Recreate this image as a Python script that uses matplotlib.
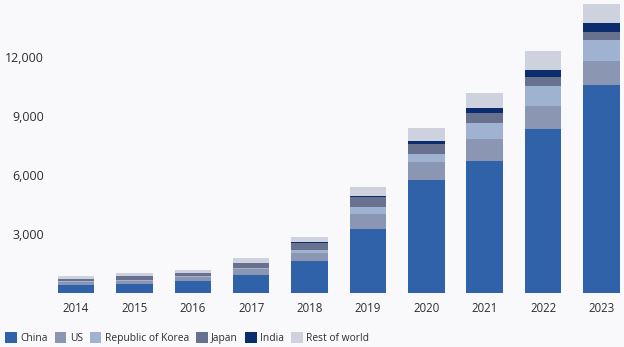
import matplotlib
matplotlib.use("Agg")
import matplotlib.pyplot as plt
import numpy as np

# Values
years = ["2014", "2015", "2016", "2017", "2018", "2019", "2020", "2021", "2022", "2023"]
china = [370, 420, 570, 890, 1610, 3230, 5720, 6670, 8320, 10560]
us = [150, 170, 220, 320, 400, 750, 900, 1120, 1170, 1220]
korea = [50, 50, 50, 50, 140, 390, 410, 830, 1020, 1040]
japan = [120, 220, 170, 220, 380, 510, 520, 520, 460, 410]
india = [0, 0, 0, 0, 50, 50, 150, 250, 340, 460]
rest = [170, 140, 140, 250, 240, 430, 660, 780, 970, 980]

series = [
    ("China", china, "#3062aa"),
    ("US", us, "#8b96b2"),
    ("Republic of Korea", korea, "#a0b2d2"),
    ("Japan", japan, "#68718e"),
    ("India", india, "#0b2d6e"),
    ("Rest of world", rest, "#cdd2de"),
]

bg = "#f9f9fb"
text_color = "#2e2e2e"
plt.rcParams['font.family'] = ['Open Sans', 'DejaVu Sans']

fig = plt.figure(figsize=(6.24, 3.47), dpi=100, facecolor=bg)
ax = fig.add_axes([0.0797, 0.157, 0.917, 0.8388])
ax.set_facecolor(bg)

x = np.arange(len(years))
bottom = np.zeros(len(years))
for name, vals, color in series:
    vals = np.array(vals, dtype=float)
    ax.bar(x, vals, width=0.625, bottom=bottom, color=color, label=name,
           linewidth=0)
    bottom += vals

ax.set_xlim(-0.45, 9.35)
ax.set_ylim(0, 14800)
ax.set_yticks([3000, 6000, 9000, 12000])
ax.set_yticklabels([f"{v:,}" for v in [3000, 6000, 9000, 12000]])
ax.set_xticks(x)
ax.set_xticklabels(years)

ax.tick_params(axis='y', length=0, pad=4, labelsize=8.9, labelcolor=text_color)
ax.tick_params(axis='x', length=0, pad=6.5, labelsize=8.3, labelcolor=text_color)
for s in ax.spines.values():
    s.set_visible(False)

leg = fig.legend(loc='lower left', bbox_to_anchor=(-0.003, -0.012), ncol=6,
                 frameon=False, fontsize=7.4, handlelength=1.1, handleheight=1.2,
                 handletextpad=0.35, columnspacing=0.7, borderaxespad=0.3)
for t in leg.get_texts():
    t.set_color(text_color)

fig.savefig("out.png", dpi=100, facecolor=bg)
